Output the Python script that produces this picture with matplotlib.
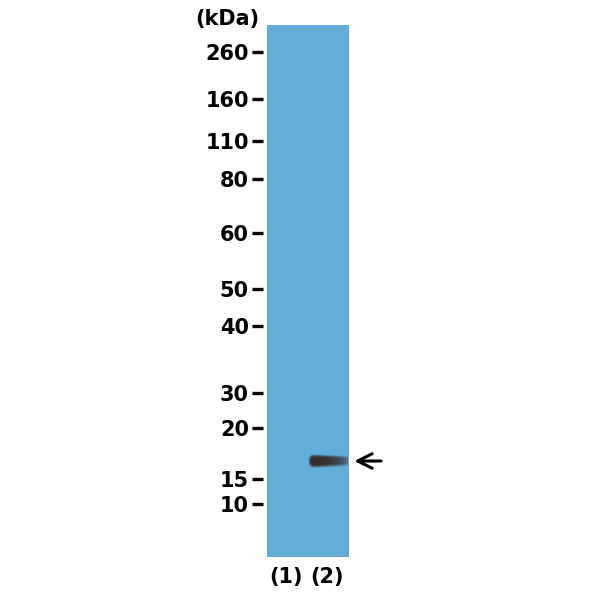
import numpy as np
import matplotlib.pyplot as plt

plt.rcParams['font.family'] = ['DejaVu Sans']

# Marcadores de peso molecular (kDa) y su posición en la membrana (fila, px)
marker_kda = ['260', '160', '110', '80', '60', '50', '40', '30', '20', '15', '10']
marker_pos = [52, 99, 141, 179, 233, 289, 326, 393, 428, 479, 504]

# Carriles
lanes = [0.46, 1.46]
lane_labels = ['(1)', '(2)']

# Banda detectada (carril 2)
band_lane = 2
band_pos = 461
band_x = (1.03, 1.98)
band_h = 16

fig = plt.figure(figsize=(6, 6), dpi=100)
ax = fig.add_axes([267 / 600, 43 / 600, 82 / 600, 532 / 600])
ax.set_facecolor('#62aed7')

# banda: mas oscura a la izquierda, se desvanece hacia la derecha
nx, ny = 200, 60
xx = np.linspace(0, 1, nx)
yy = np.linspace(-1, 1, ny)
X, Y = np.meshgrid(xx, yy)
width = 0.8 - 0.25 * X
alpha = np.clip(1.4 - (np.abs(Y) / width) ** 2, 0, 1)
alpha *= np.clip(1.0 - 0.55 * X ** 3, 0, 1)
alpha *= np.clip(np.sqrt(np.clip(X / 0.08 + 0.3 - Y ** 2 * 1.5, 0, 1)), 0, 1)
rgba = np.zeros((ny, nx, 4))
rgba[..., 0] = 0.21
rgba[..., 1] = 0.14
rgba[..., 2] = 0.14
rgba[..., 3] = np.clip(alpha, 0, 1) * 0.95
ax.imshow(rgba, extent=[band_x[0], band_x[1], band_pos + band_h / 2, band_pos - band_h / 2],
          aspect='auto', interpolation='bilinear', zorder=2)
ax.set_xlim(0, 2)
ax.set_ylim(557, 25)

# flecha
ax.annotate('', xy=(2.06, band_pos), xytext=(2.85, band_pos), xycoords='data',
            arrowprops=dict(arrowstyle='->', color='black', lw=2.2, mutation_scale=26),
            annotation_clip=False)

for s in ax.spines.values():
    s.set_visible(False)
ax.spines['left'].set_position(('outward', 3))

ax.set_yticks(marker_pos)
ax.set_yticklabels(marker_kda, fontsize=15, fontweight='bold')
ax.tick_params(axis='y', length=8, width=2.4, pad=2, color='black')
ax.set_xticks(lanes)
ax.set_xticklabels(lane_labels, fontsize=15, fontweight='bold')
ax.tick_params(axis='x', length=0, pad=7)

fig.text(259 / 600, 1 - 19 / 600, '(kDa)', ha='right', va='center', fontsize=15, fontweight='bold')

fig.savefig('out.png', dpi=100, facecolor='white')
